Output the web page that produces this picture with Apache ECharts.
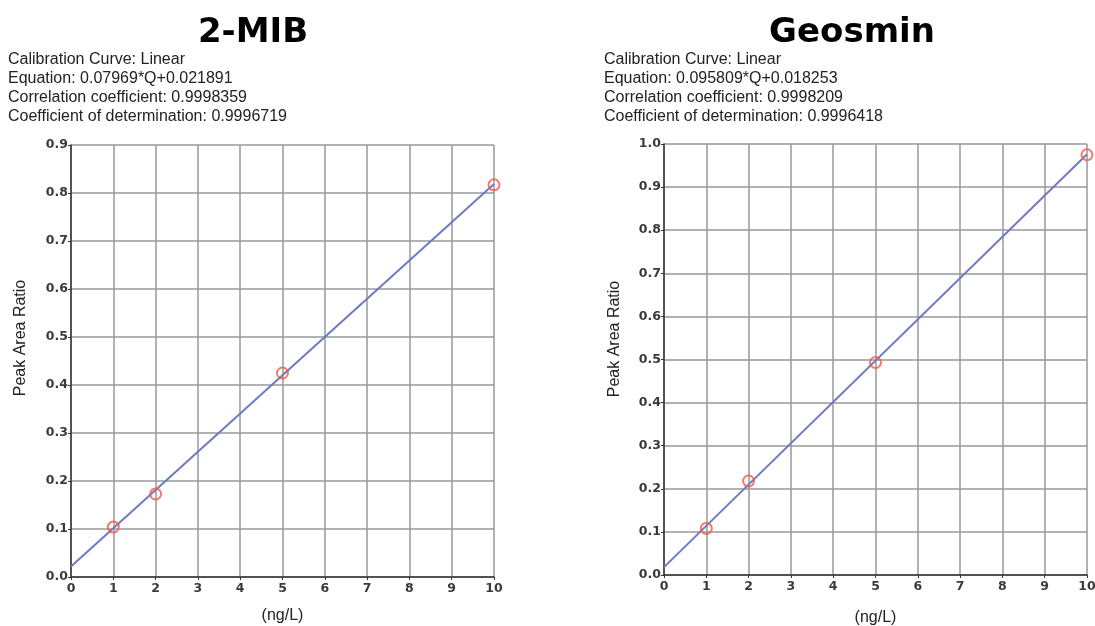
<!DOCTYPE html>
<html>
<head>
<meta charset="utf-8">
<script src="https://cdn.jsdelivr.net/npm/echarts@6/dist/echarts.min.js"></script>
<style>
html,body{margin:0;padding:0;background:#fff;}
#chart{width:1095px;height:626px;}
</style>
</head>
<body>
<div id="chart"></div>
<script>
// ---- data ----
const titles = ['2-MIB', 'Geosmin'];
const infoMIB = [
  'Calibration Curve: Linear',
  'Equation: 0.07969*Q+0.021891',
  'Correlation coefficient: 0.9998359',
  'Coefficient of determination: 0.9996719'
];
const infoGeo = [
  'Calibration Curve: Linear',
  'Equation: 0.095809*Q+0.018253',
  'Correlation coefficient: 0.9998209',
  'Coefficient of determination: 0.9996418'
];
const pointsMIB = [[1, 0.104], [2, 0.173], [5, 0.425], [10, 0.817]];
const pointsGeo = [[1, 0.108], [2, 0.218], [5, 0.493], [10, 0.975]];
const fitMIB = [[0, 0.0219], [10, 0.8188]];
const fitGeo = [[0, 0.0183], [10, 0.9764]];
const yMax = [0.9, 1.0];
const xName = '(ng/L)';
const yName = 'Peak Area Ratio';

// ---- styles ----
const lineColor = '#6b7bc6';
const markColor = '#f05a48';
const tickFont = { fontFamily: 'DejaVu Sans', fontWeight: 'bold', fontSize: 12.5, color: '#3a3a3a' };
const textFont = { fontFamily: 'Liberation Sans', fontSize: 16 };
const gridLine = { color: '#999', width: 1.5 };

function xAxis(gridIndex, gap) {
  return {
    type: 'value', gridIndex, min: 0, max: 10, interval: 1,
    name: xName, nameLocation: 'middle', nameGap: gap,
    nameTextStyle: Object.assign({ color: '#222' }, textFont),
    axisLine: { show: true, lineStyle: { color: '#333', width: 1.5 } },
    axisTick: { show: true, length: 3, lineStyle: { color: '#333' } },
    axisLabel: Object.assign({ margin: 5 }, tickFont),
    splitLine: { show: true, lineStyle: gridLine }
  };
}
function yAxis(gridIndex, max) {
  return {
    type: 'value', gridIndex, min: 0, max, interval: 0.1,
    axisLine: { show: true, lineStyle: { color: '#333', width: 1.5 } },
    axisTick: { show: true, length: 3, lineStyle: { color: '#333' } },
    axisLabel: Object.assign({ margin: 3, formatter: v => v.toFixed(1) }, tickFont),
    splitLine: { show: true, lineStyle: gridLine }
  };
}
function infoText(lines, x) {
  return {
    type: 'text', x: x, y: 50,
    style: Object.assign({ text: lines.join('\n'), fill: '#222', lineHeight: 19, verticalAlign: 'top' }, textFont)
  };
}
function titleText(t, cx) {
  return {
    type: 'text', x: cx, y: 33,
    style: { text: t, fontFamily: 'DejaVu Sans', fontWeight: 'bold', fontSize: 34, fill: '#000', align: 'center', verticalAlign: 'middle' }
  };
}
function yNameText(cx, cy) {
  return {
    type: 'text', x: cx, y: cy, rotation: Math.PI / 2,
    style: Object.assign({ text: yName, fill: '#222', align: 'center', verticalAlign: 'middle' }, textFont)
  };
}

const chart = echarts.init(document.getElementById('chart'), null, { renderer: 'canvas' });
chart.setOption({
  backgroundColor: '#fff',
  animation: false,
  grid: [
    { left: 71, right: 601, top: 145, bottom: 49, outerBoundsMode: 'none', containLabel: false },
    { left: 664, right: 8, top: 144, bottom: 51, outerBoundsMode: 'none', containLabel: false }
  ],
  xAxis: [xAxis(0, 31), xAxis(1, 35)],
  yAxis: [yAxis(0, yMax[0]), yAxis(1, yMax[1])],
  graphic: [
    titleText(titles[0], 253),
    titleText(titles[1], 852),
    infoText(infoMIB, 8),
    infoText(infoGeo, 604),
    yNameText(21, 338),
    yNameText(615, 339)
  ],
  series: [
    { type: 'line', xAxisIndex: 0, yAxisIndex: 0, data: fitMIB, symbol: 'none',
      lineStyle: { color: lineColor, width: 2 }, z: 2 },
    { type: 'scatter', xAxisIndex: 0, yAxisIndex: 0, data: pointsMIB, symbol: 'circle', symbolSize: 11,
      itemStyle: { color: 'rgba(0,0,0,0)', borderColor: markColor, borderWidth: 2 }, z: 3 },
    { type: 'line', xAxisIndex: 1, yAxisIndex: 1, data: fitGeo, symbol: 'none',
      lineStyle: { color: lineColor, width: 2 }, z: 2 },
    { type: 'scatter', xAxisIndex: 1, yAxisIndex: 1, data: pointsGeo, symbol: 'circle', symbolSize: 11,
      itemStyle: { color: 'rgba(0,0,0,0)', borderColor: markColor, borderWidth: 2 }, z: 3 }
  ]
});
</script>
</body>
</html>
